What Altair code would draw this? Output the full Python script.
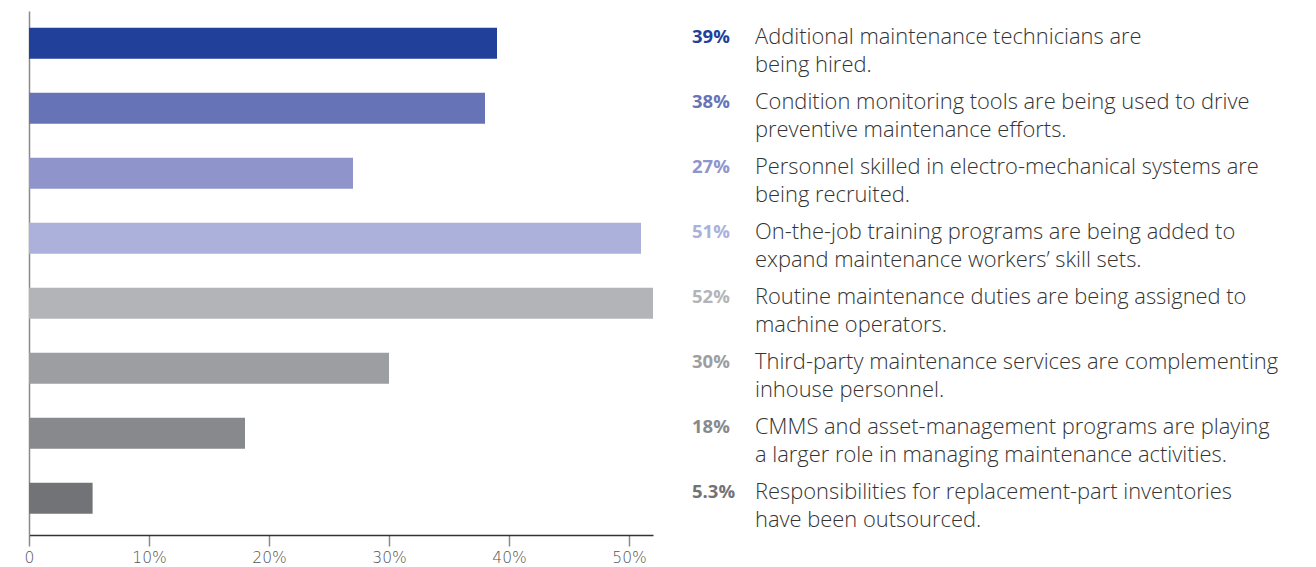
import altair as alt
import pandas as pd

pct = [39, 38, 27, 51, 52, 30, 18, 5.3]
pct_labels = ["39%", "38%", "27%", "51%", "52%", "30%", "18%", "5.3%"]
line1 = [
    "Additional maintenance technicians are",
    "Condition monitoring tools are being used to drive",
    "Personnel skilled in electro-mechanical systems are",
    "On-the-job training programs are being added to",
    "Routine maintenance duties are being assigned to",
    "Third-party maintenance services are complementing",
    "CMMS and asset-management programs are playing",
    "Responsibilities for replacement-part inventories",
]
line2 = [
    "being hired.",
    "preventive maintenance efforts.",
    "being recruited.",
    "expand maintenance workers\u2019 skill sets.",
    "machine operators.",
    "inhouse personnel.",
    "a larger role in managing maintenance activities.",
    "have been outsourced.",
]
colors = ["#21409a", "#6674b7", "#8f95ca", "#abb1db", "#b3b4b8", "#9d9ea2", "#88898d", "#727376"]
x_ticks = [0, 10, 20, 30, 40, 50]

items = [f"item{i}" for i in range(len(pct))]
df = pd.DataFrame({
    "item": items,
    "pct": pct,
    "pct_label": pct_labels,
    "line1": line1,
    "line2": line2,
})

y_enc = alt.Y(
    "item:N",
    sort=None,
    scale=alt.Scale(paddingInner=0.528, paddingOuter=0.295, align=0.444),
    axis=alt.Axis(labels=False, ticks=False, title=None, grid=False,
                  domainColor="#8a8a8a", domainWidth=1.5),
)
color_enc = alt.Color("item:N", scale=alt.Scale(domain=items, range=colors), legend=None)

base = alt.Chart(df)

bars = base.mark_bar(size=31).encode(
    x=alt.X(
        "pct:Q",
        scale=alt.Scale(domain=[0, 52], nice=False, zero=True),
        axis=alt.Axis(
            values=x_ticks,
            labelExpr="datum.value == 0 ? '0' : datum.value + '%'",
            labelFlush=False,
            tickSize=11, tickColor="#8a8a8a", tickWidth=1.5,
            domainColor="#333333", domainWidth=1.5,
            labelColor="#555555", labelFontSize=15.5, labelPadding=4,
            labelFont="DejaVu Sans", labelFontWeight=300,
            grid=False, title=None,
        ),
    ),
    y=y_enc,
    color=color_enc,
)

pct_text = base.mark_text(
    align="left", baseline="middle", dy=-6, fontSize=18.5, fontWeight="bold", font="Open Sans"
).encode(
    x=alt.value(663),
    y=y_enc,
    text="pct_label:N",
    color=color_enc,
)

desc1 = base.mark_text(
    align="left", baseline="middle", dy=-6, fontSize=21.9, fontWeight=300, font="Open Sans", color="#333333"
).encode(
    x=alt.value(726),
    y=y_enc,
    text="line1:N",
)

desc2 = base.mark_text(
    align="left", baseline="middle", dy=22, fontSize=21.9, fontWeight=300, font="Open Sans", color="#333333"
).encode(
    x=alt.value(726),
    y=y_enc,
    text="line2:N",
)

chart = alt.layer(bars, pct_text, desc1, desc2).properties(
    width=624,
    height=524,
    background="white",
    autosize=alt.AutoSizeParams(type="none"),
    padding={"left": 29, "top": 11, "right": 663, "bottom": 32},
).configure_view(stroke=None)

chart.save("out.html", embed_options={"renderer": "svg", "actions": False})
